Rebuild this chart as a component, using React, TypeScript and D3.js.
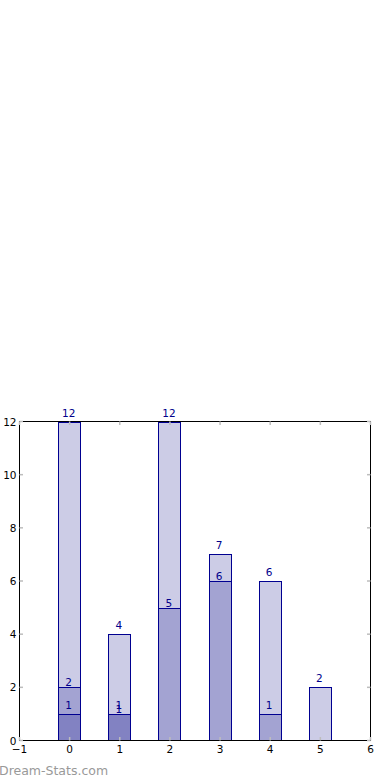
import React from "react";
import * as d3 from "d3";

const categories = [0, 1, 2, 3, 4, 5];
const seriesA = [12, 4, 12, 7, 6, 2];
const seriesB = [2, 1, 5, 6, 0, 0];
const seriesC = [1, 1, 0, 0, 1, 0];
const xTicks = [-1, 0, 1, 2, 3, 4, 5, 6];
const yTicks = [0, 2, 4, 6, 8, 10, 12];

const W = 390;
const H = 780;
const left = 19.5;
const right = 370.5;
const top = 421.5;
const bottom = 740.5;

export default function App() {
  const x = d3.scaleLinear().domain([-1, 6]).range([left, right]);
  const y = d3.scaleLinear().domain([0, 12]).range([bottom, top]);
  const series = [
    { vals: seriesA, off: 5 },
    { vals: seriesB, off: 1 },
    { vals: seriesC, off: 5 },
  ];
  const font = "DejaVu Sans, sans-serif";
  const tickCol = "#bdbdbd";
  return (
    <svg
      width={W}
      height={H}
      style={{ position: "absolute", left: 0, top: 0 }}
      fontFamily={font}
    >
      <rect x={0} y={0} width={W} height={H} fill="#fff" />
      {series.map((s, si) =>
        categories.map((c, i) => {
          const v = s.vals[i];
          if (v <= 0) return null;
          const x0 = Math.round(x(c - 0.23)) + 0.5;
          const x1 = Math.round(x(c + 0.21)) + 0.5;
          const yt = Math.round(y(v)) + 0.5;
          return (
            <rect
              key={`b${si}-${i}`}
              x={x0}
              y={yt}
              width={x1 - x0}
              height={bottom - yt}
              fill="rgba(0,0,128,0.2)"
              stroke="#000090"
              strokeWidth={1}
            />
          );
        })
      )}
      {series.map((s, si) =>
        categories.map((c, i) => {
          const v = s.vals[i];
          if (v <= 0) return null;
          return (
            <text
              key={`t${si}-${i}`}
              x={x(c) - 1}
              y={y(v) - s.off}
              textAnchor="middle"
              fontSize={10.5}
              fill="#00008b"
            >
              {v}
            </text>
          );
        })
      )}
      <rect
        x={left}
        y={top}
        width={right - left}
        height={bottom - top}
        fill="none"
        stroke="#000"
        strokeWidth={1}
      />
      {xTicks.map((t) => (
        <g key={`xt${t}`}>
          <line x1={x(t)} x2={x(t)} y1={bottom} y2={bottom - 3.5} stroke={tickCol} strokeWidth={1.5} />
          <line x1={x(t)} x2={x(t)} y1={top} y2={top + 3.5} stroke={tickCol} strokeWidth={1.5} />
          <text x={x(t)} y={bottom + 12} textAnchor="middle" fontSize={10.5} fill="#000">
            {t < 0 ? "\u2212" + Math.abs(t) : t}
          </text>
        </g>
      ))}
      {yTicks.map((t) => (
        <g key={`yt${t}`}>
          <line x1={left} x2={left + 3.5} y1={y(t)} y2={y(t)} stroke={tickCol} strokeWidth={1.5} />
          <line x1={right} x2={right - 3.5} y1={y(t)} y2={y(t)} stroke={tickCol} strokeWidth={1.5} />
          <text x={left - 3} y={y(t) + 4} textAnchor="end" fontSize={10.5} fill="#000">
            {t}
          </text>
        </g>
      ))}
      <text x={-1} y={775} fontSize={12.5} fill="#999">
        Dream-Stats.com
      </text>
    </svg>
  );
}
